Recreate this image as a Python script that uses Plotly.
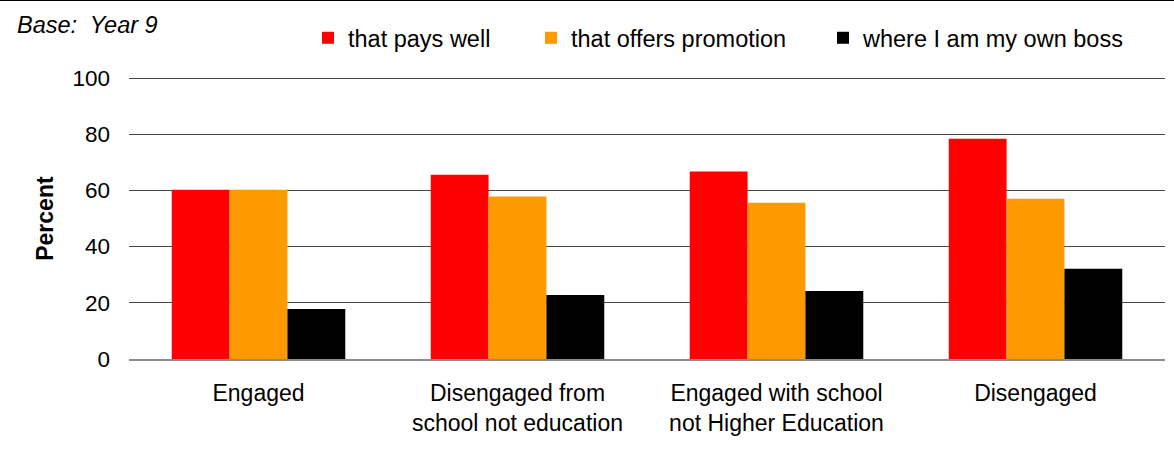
import plotly.graph_objects as go

categories = ["Engaged", "Disengaged from<br>school not education",
              "Engaged with school<br>not Higher Education", "Disengaged"]
series_names = ["that pays well", "that offers promotion", "where I am my own boss"]
pays_well = [60.2, 65.6, 66.7, 78.4]
promotion = [60.2, 57.8, 55.6, 57.0]
own_boss = [17.8, 22.8, 24.2, 32.1]
y_ticks = [0, 20, 40, 60, 80, 100]

colors = ["#FF0000", "#FF9900", "#000000"]
FONT = "Liberation Sans, Arial, sans-serif"

W, H = 1174, 463
YMAX = 105
px_per_unit = (359 - 78.5) / 100
L, R, B = 129, 9, 104
T = 78.5 - (YMAX - 100) * px_per_unit
plot_h = H - T - B
plot_w = W - L - R

fig = go.Figure()
for i, (name, vals) in enumerate(zip(series_names, [pays_well, promotion, own_boss])):
    fig.add_trace(go.Bar(
        x=categories, y=vals, name=name,
        marker=dict(color=colors[i], line=dict(width=0)),
        legend="legend" if i == 0 else f"legend{i+1}",
        hoverinfo="y+name",
    ))

def leg(xpix):
    return dict(
        xref="container", yref="container",
        x=xpix / W, y=1 - 38 / H, xanchor="left", yanchor="middle",
        font=dict(family=FONT, size=23.5, color="#000"),
        bgcolor="rgba(0,0,0,0)", borderwidth=0,
        itemwidth=30, orientation="h",
    )

fig.update_layout(
    width=W, height=H,
    margin=dict(l=L, r=R, t=T, b=B, autoexpand=False),
    paper_bgcolor="white", plot_bgcolor="white",
    font=dict(family=FONT, size=22, color="#000"),
    barmode="group", bargap=0.33, bargroupgap=0,
    showlegend=True,
    legend=leg(308), legend2=leg(531), legend3=leg(823),
    xaxis=dict(
        showgrid=False, showline=True, linecolor="#8c8c8c", linewidth=2,
        ticks="", tickfont=dict(family=FONT, size=23, color="#000"),
        ticklabelstandoff=12,
    ),
    yaxis=dict(
        range=[0, YMAX], tickvals=y_ticks, showgrid=True,
        gridcolor="#474747", gridwidth=1.2, zeroline=False, showline=False,
        ticks="", tickfont=dict(family=FONT, size=22.5, color="#000"),
        ticklabelstandoff=18,
    ),
    annotations=[
        dict(
            text="<i>Base:  Year 9</i>", xref="paper", yref="paper",
            x=(15 - L) / plot_w, y=(H - B - 26) / plot_h,
            xanchor="left", yanchor="middle", showarrow=False,
            font=dict(family=FONT, size=23.5, color="#000"),
        ),
        dict(
            text="<b>Percent</b>", xref="paper", yref="paper",
            x=(45 - L) / plot_w, y=(H - B - 219) / plot_h,
            xanchor="center", yanchor="middle", showarrow=False, textangle=-90,
            font=dict(family=FONT, size=23, color="#000"),
        ),
    ],
    shapes=[dict(
        type="line", xref="paper", yref="paper",
        x0=-L / plot_w, x1=(W - L) / plot_w,
        y0=(H - B - 0.5) / plot_h, y1=(H - B - 0.5) / plot_h,
        line=dict(color="#000", width=2),
    )],
)

fig.write_html("out.html", config={"displayModeBar": False},
               post_script="document.body.style.margin='0';")
